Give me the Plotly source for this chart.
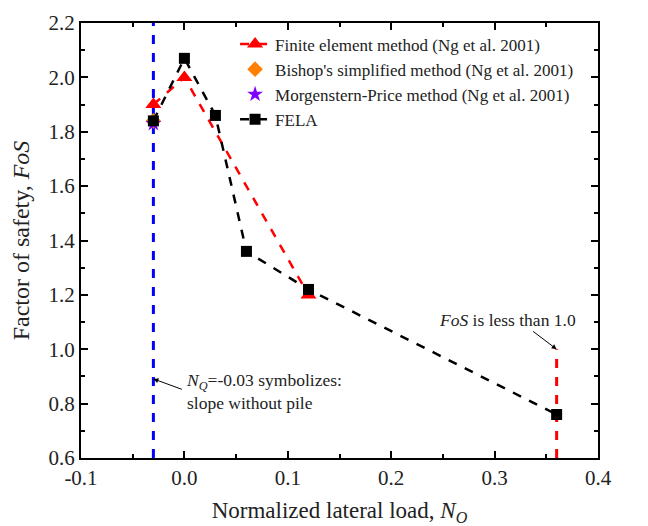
import plotly.graph_objects as go

fem_x = [-0.03, 0.0, 0.12]
fem_y = [1.90, 2.00, 1.20]
bishop_x = [-0.03]
bishop_y = [1.84]
mp_x = [-0.03]
mp_y = [1.83]
fela_x = [-0.03, 0.0, 0.03, 0.06, 0.12, 0.36]
fela_y = [1.84, 2.07, 1.86, 1.36, 1.22, 0.76]

x_ticks = [-0.1, 0.0, 0.1, 0.2, 0.3, 0.4]
x_ticktext = ["-0.1", "0.0", "0.1", "0.2", "0.3", "0.4"]

nopile_x = -0.03
limit_x = 0.36
limit_y = 1.0

FONT = "Liberation Serif, Times New Roman, serif"

fig = go.Figure()
fig.add_trace(go.Scatter(x=[nopile_x, nopile_x], y=[0.6, 2.2], mode="lines",
                         line=dict(color="#0000ff", width=3, dash="dash"),
                         showlegend=False, hoverinfo="skip"))
fig.add_trace(go.Scatter(x=[limit_x, limit_x], y=[0.6, limit_y], mode="lines",
                         line=dict(color="#ff0000", width=3, dash="dash"),
                         showlegend=False, hoverinfo="skip"))

fig.add_trace(go.Scatter(x=fem_x, y=fem_y, mode="lines+markers",
                         name="Finite element method (Ng et al. 2001)",
                         line=dict(color="#ff0000", width=2.5, dash="dash"),
                         marker=dict(symbol="triangle-up", size=14, color="#ff0000")))
fig.add_trace(go.Scatter(x=bishop_x, y=bishop_y, mode="markers",
                         name="Bishop's simplified method (Ng et al. 2001)",
                         marker=dict(symbol="diamond", size=12, color="#ff8000")))
fig.add_trace(go.Scatter(x=mp_x, y=mp_y, mode="markers",
                         name="Morgenstern-Price method (Ng et al. 2001)",
                         marker=dict(symbol="star", size=12, color="#8000ff")))
fig.add_trace(go.Scatter(x=fela_x, y=fela_y, mode="lines+markers",
                         name="FELA",
                         line=dict(color="#000000", width=2.5, dash="dash"),
                         marker=dict(symbol="square", size=11, color="#000000")))

fig.add_annotation(x=limit_x, y=limit_y, ax=-25, ay=-19,
                   text="", showarrow=True, arrowhead=2, arrowsize=1, arrowwidth=1,
                   arrowcolor="black")
fig.add_annotation(x=0.312, y=1.107, text="<i>FoS</i> is less than 1.0", showarrow=False,
                   font=dict(family=FONT, size=17.5, color="#222"))
fig.add_annotation(x=nopile_x, y=0.891, ax=30, ay=11, text="", showarrow=True,
                   arrowhead=2, arrowsize=1, arrowwidth=1, arrowcolor="black")
fig.add_annotation(x=0.0, y=0.843, xanchor="left",
                   text="<i>N<sub>Q</sub></i>=-0.03 symbolizes:<br>slope without pile",
                   align="left", showarrow=False,
                   font=dict(family=FONT, size=17.5, color="#222"))

axis_common = dict(showline=True, linecolor="black", linewidth=2, mirror="ticks",
                   ticks="inside", ticklen=7, tickwidth=1.5, tickcolor="black",
                   showgrid=False, zeroline=False, automargin=False,
                   tickfont=dict(family=FONT, size=21, color="#222"))
fig.update_xaxes(range=[-0.1, 0.4], tickvals=x_ticks, ticktext=x_ticktext,
                 minor=dict(dtick=0.05, ticks="inside", ticklen=4, tickcolor="black", tickwidth=1.5),
                 title=dict(text="Normalized lateral load, <i>N<sub>O</sub></i>",
                            font=dict(family=FONT, size=23, color="#222"), standoff=14),
                 **axis_common)
fig.update_yaxes(range=[0.6, 2.2], dtick=0.2, tickformat=".1f",
                 minor=dict(dtick=0.1, ticks="inside", ticklen=4, tickcolor="black", tickwidth=1.5),
                 title=dict(text="Factor of safety, <i>FoS</i>",
                            font=dict(family=FONT, size=24, color="#222"), standoff=12),
                 **axis_common)

fig.update_layout(width=648, height=526, margin=dict(l=81, r=50, t=23, b=68),
                  plot_bgcolor="white", paper_bgcolor="white",
                  legend=dict(x=0.298, y=0.992, xanchor="left", yanchor="top",
                              bgcolor="rgba(0,0,0,0)", tracegroupgap=0,
                              font=dict(family=FONT, size=17, color="#222")))

fig.write_html("out.html")
